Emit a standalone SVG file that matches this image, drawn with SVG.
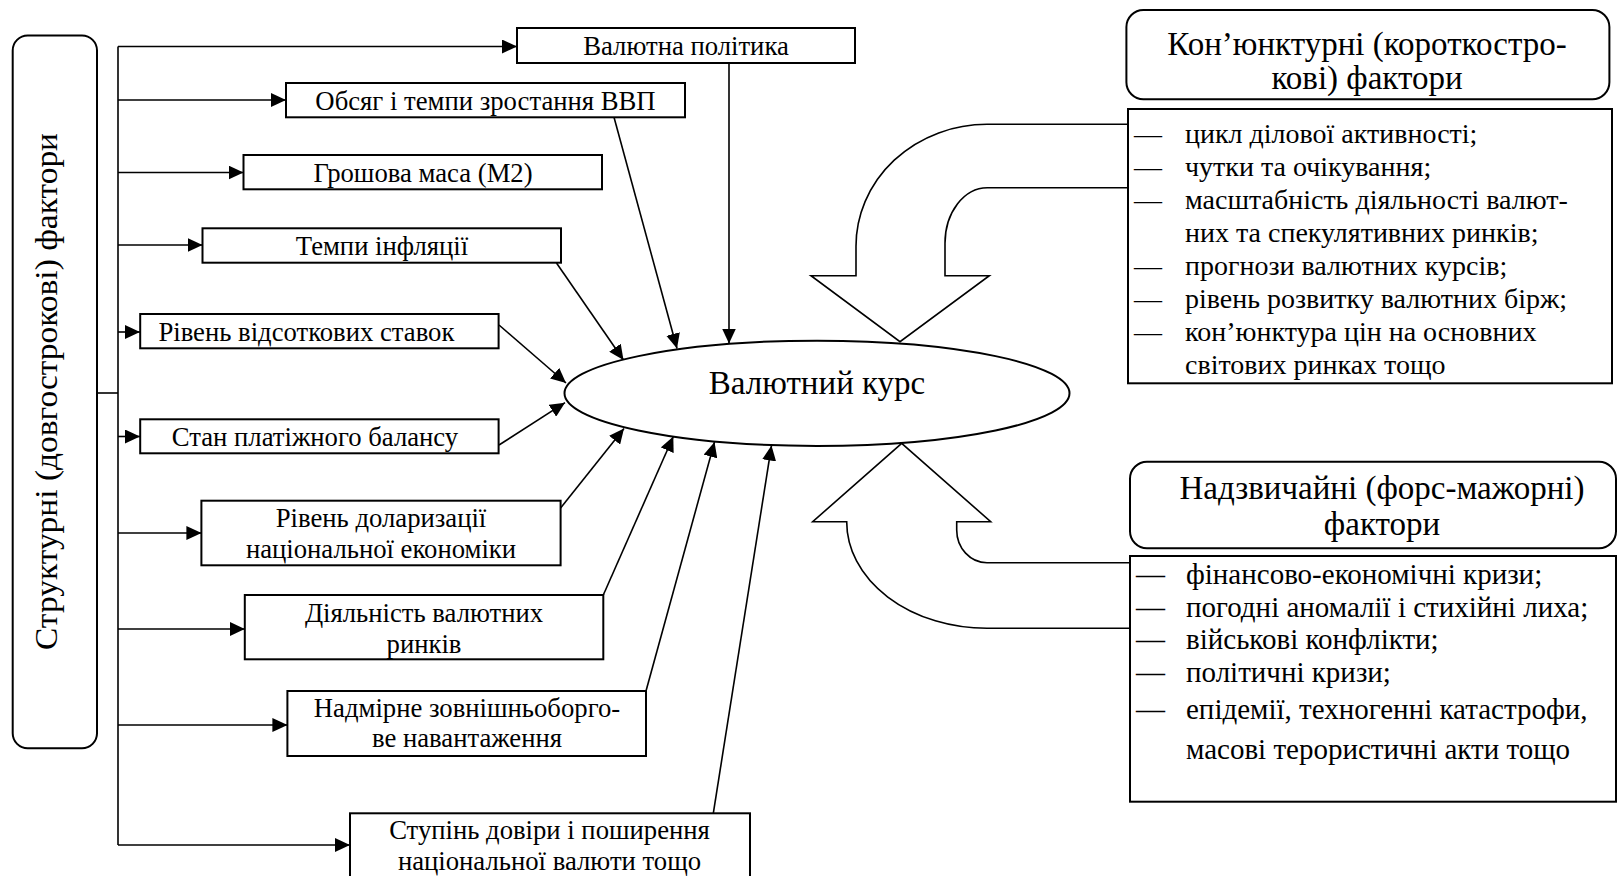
<svg xmlns="http://www.w3.org/2000/svg" width="1619" height="876" viewBox="0 0 1619 876">
<defs>
<marker id="arr" markerUnits="userSpaceOnUse" markerWidth="15" markerHeight="14" refX="15" refY="7" orient="auto">
<path d="M0,0 L15,7 L0,14 z" fill="#000"/>
</marker>
<style>
.box{fill:#fff;stroke:#000;stroke-width:2}
.ln{fill:none;stroke:#000;stroke-width:1.6}
.big{fill:none;stroke:#000;stroke-width:1.6}
.t{font-family:"Liberation Serif","Times New Roman",serif;font-size:26.7px;fill:#000}
.c{text-anchor:middle}
.h{font-size:33px}
.l{font-size:28px}
.m{font-size:29px}
</style>
</defs>
<rect width="1619" height="876" fill="#fff"/>

<g id="connectors">
<path class="ln" d="M118,845 V46.5"/>
<line class="ln" x1="97" y1="393" x2="118" y2="393"/>
<line class="ln" x1="118" y1="46.5" x2="517" y2="46.5" marker-end="url(#arr)"/>
<line class="ln" x1="118" y1="100" x2="286" y2="100" marker-end="url(#arr)"/>
<line class="ln" x1="118" y1="172.5" x2="243.5" y2="172.5" marker-end="url(#arr)"/>
<line class="ln" x1="118" y1="245" x2="202.5" y2="245" marker-end="url(#arr)"/>
<line class="ln" x1="118" y1="332" x2="140" y2="332" marker-end="url(#arr)"/>
<line class="ln" x1="118" y1="436.5" x2="140" y2="436.5" marker-end="url(#arr)"/>
<line class="ln" x1="118" y1="533" x2="201.4" y2="533" marker-end="url(#arr)"/>
<line class="ln" x1="118" y1="629" x2="244.8" y2="629" marker-end="url(#arr)"/>
<line class="ln" x1="118" y1="725" x2="287.4" y2="725" marker-end="url(#arr)"/>
<line class="ln" x1="118" y1="845" x2="350" y2="845" marker-end="url(#arr)"/>

<line class="ln" x1="729" y1="63" x2="729" y2="343.5" marker-end="url(#arr)"/>
<line class="ln" x1="614" y1="117.3" x2="677" y2="348.5" marker-end="url(#arr)"/>
<line class="ln" x1="556.5" y1="263" x2="623.5" y2="360" marker-end="url(#arr)"/>
<line class="ln" x1="499" y1="325" x2="566" y2="383" marker-end="url(#arr)"/>
<line class="ln" x1="499" y1="445" x2="565" y2="402.7" marker-end="url(#arr)"/>
<line class="ln" x1="560.6" y1="508" x2="624" y2="428.5" marker-end="url(#arr)"/>
<line class="ln" x1="603.3" y1="595" x2="673.3" y2="436.5" marker-end="url(#arr)"/>
<line class="ln" x1="646" y1="691" x2="714.5" y2="442" marker-end="url(#arr)"/>
<line class="ln" x1="713.3" y1="813.3" x2="771.5" y2="445.5" marker-end="url(#arr)"/>

<path class="big" d="M1128,124.3 H987 A131,122 0 0 0 856,246.7 V275.7 H811 L900,341.7 L989.3,275.7 H945 V243.3 A42.3,55.6 0 0 1 987.3,187.7 H1128"/>
<path class="big" d="M1130,628.3 H987 A140.3,106.6 0 0 1 846.7,521.7 H812.7 L901.7,443.3 L990.7,521.7 H956.7 V530 A30.3,32.7 0 0 0 987,562.7 H1130"/>
</g>

<g id="structural">
<rect class="box" x="12.7" y="35.5" width="84.3" height="712.8" rx="15"/>
<text class="t c" transform="translate(57,391.5) rotate(-90)" style="font-size:32px" textLength="517" lengthAdjust="spacingAndGlyphs">Структурні (довгострокові) фактори</text>
</g>

<g id="n1"><rect class="box" x="517" y="28" width="338" height="35"/><text class="t c" x="686" y="55">Валютна політика</text></g>
<g id="n2"><rect class="box" x="286" y="83" width="399" height="34.3"/><text class="t c" x="485.5" y="110">Обсяг і темпи зростання ВВП</text></g>
<g id="n3"><rect class="box" x="243.5" y="155" width="358.5" height="34.3"/><text class="t c" x="423" y="182">Грошова маса (М2)</text></g>
<g id="n4"><rect class="box" x="202.5" y="228.3" width="358.5" height="34.4"/><text class="t c" x="382" y="255">Темпи інфляції</text></g>
<g id="n5"><rect class="box" x="140.2" y="314" width="358.4" height="34.3"/><text class="t" x="158.4" y="341">Рівень відсоткових ставок</text></g>
<g id="n6"><rect class="box" x="140.2" y="419.3" width="358.4" height="34"/><text class="t c" x="315" y="446">Стан платіжного балансу</text></g>
<g id="n7"><rect class="box" x="201.4" y="500.7" width="359.2" height="64.6"/><text class="t c" x="381" y="526.5">Рівень доларизації</text><text class="t c" x="381" y="557.5">національної економіки</text></g>
<g id="n8"><rect class="box" x="244.8" y="595" width="358.5" height="64.3"/><text class="t c" x="424" y="622">Діяльність валютних</text><text class="t c" x="424" y="652.5">ринків</text></g>
<g id="n9"><rect class="box" x="287.4" y="691" width="358.6" height="65"/><text class="t c" x="467" y="717">Надмірне зовнішньоборго-</text><text class="t c" x="467" y="747">ве навантаження</text></g>
<g id="n10"><rect class="box" x="350" y="813.3" width="400" height="70"/><text class="t c" x="549.5" y="839">Ступінь довіри і поширення</text><text class="t c" x="549.5" y="870">національної валюти тощо</text></g>

<g id="center"><ellipse class="box" cx="817" cy="393.3" rx="252.5" ry="52.6"/><text class="t c h" x="817" y="393.5">Валютний курс</text></g>

<g id="conj-head"><rect class="box" x="1126.4" y="10" width="483" height="89.3" rx="17"/><text class="t c h" x="1367" y="54.5">Кон’юнктурні (короткостро-</text><text class="t c h" x="1367" y="88.5">кові) фактори</text></g>

<g id="conj-list"><rect class="box" x="1128" y="109" width="484" height="274.3"/>
<text class="t l" x="1134" y="142.5">—</text><text class="t l" x="1185" y="142.5">цикл ділової активності;</text>
<text class="t l" x="1134" y="175.5">—</text><text class="t l" x="1185" y="175.5">чутки та очікування;</text>
<text class="t l" x="1134" y="208.6">—</text><text class="t l" x="1185" y="208.6">масштабність діяльності валют-</text>
<text class="t l" x="1185" y="241.6">них та спекулятивних ринків;</text>
<text class="t l" x="1134" y="274.6">—</text><text class="t l" x="1185" y="274.6">прогнози валютних курсів;</text>
<text class="t l" x="1134" y="307.7">—</text><text class="t l" x="1185" y="307.7">рівень розвитку валютних бірж;</text>
<text class="t l" x="1134" y="340.7">—</text><text class="t l" x="1185" y="340.7">кон’юнктура цін на основних</text>
<text class="t l" x="1185" y="373.5">світових ринках тощо</text>
</g>

<g id="force-head"><rect class="box" x="1130" y="461.7" width="486" height="86.6" rx="17"/><text class="t c h" x="1382" y="499">Надзвичайні (форс-мажорні)</text><text class="t c h" x="1382" y="535">фактори</text></g>

<g id="force-list"><rect class="box" x="1130" y="556" width="486" height="245.7"/>
<text class="t m" x="1136" y="584">—</text><text class="t m" x="1186" y="584">фінансово-економічні кризи;</text>
<text class="t m" x="1136" y="617">—</text><text class="t m" x="1186" y="617">погодні аномалії і стихійні лиха;</text>
<text class="t m" x="1136" y="649">—</text><text class="t m" x="1186" y="649">військові конфлікти;</text>
<text class="t m" x="1136" y="682">—</text><text class="t m" x="1186" y="682">політичні кризи;</text>
<text class="t m" x="1136" y="719">—</text><text class="t m" x="1186" y="719">епідемії, техногенні катастрофи,</text>
<text class="t m" x="1186" y="758.5">масові терористичні акти тощо</text>
</g>
</svg>
